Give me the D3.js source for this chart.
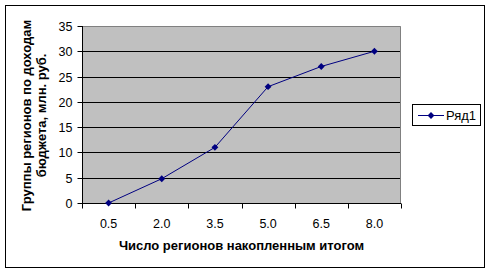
<!DOCTYPE html>
<html>
<head>
<meta charset="utf-8">
<script src="https://cdn.jsdelivr.net/npm/d3@7"></script>
<style>
  body { margin: 0; background: #fff; }
  text { font-family: "Liberation Sans", Arial, sans-serif; }
</style>
</head>
<body>
<div id="chart"></div>
<script>
// data
var categories = ["0.5", "2.0", "3.5", "5.0", "6.5", "8.0"]
var values = [0, 4.8, 11, 23, 27, 30]
var yTicks = [0, 5, 10, 15, 20, 25, 30, 35]
var seriesName = "Ряд1"
var xTitle = "Число регионов накопленным итогом"
var yTitle = ["Группы регионов по доходам", "бюджета, млн. руб."]

var svgw = 492, svgh = 274
var plot = {left: 82, top: 26, right: 401, bottom: 203}

var svg = d3.select('#chart').append('svg')
  .attr('width', svgw)
  .attr('height', svgh)

// outer frame
svg.append('rect')
  .attr('x', 5.5).attr('y', 5.5)
  .attr('width', 479).attr('height', 262)
  .attr('fill', '#fff').attr('stroke', '#000')

var x = d3.scaleBand()
  .domain(categories)
  .range([plot.left, plot.right])
var y = d3.scaleLinear()
  .domain([0, 35])
  .range([plot.bottom, plot.top])

// plot area
svg.append('rect')
  .attr('x', plot.left).attr('y', plot.top)
  .attr('width', plot.right - plot.left).attr('height', plot.bottom - plot.top)
  .attr('fill', '#c0c0c0')
svg.append('path')
  .attr('d', 'M' + plot.left + ',' + (plot.top + 0.5) + 'H' + (plot.right - 0.5) + 'V' + plot.bottom)
  .attr('fill', 'none').attr('stroke', '#808080')

// gridlines
svg.selectAll('.grid')
  .data(yTicks.filter(function(d){ return d > 0 && d < 35 }))
  .enter().append('line')
  .attr('x1', plot.left).attr('x2', plot.right - 1)
  .attr('y1', function(d){ return Math.round(y(d)) + 0.5 })
  .attr('y2', function(d){ return Math.round(y(d)) + 0.5 })
  .attr('stroke', '#000')

// y axis
var yAxis = svg.append('g')
  .attr('transform', 'translate(' + (plot.left + 0.5) + ',0)')
  .call(d3.axisLeft(y).tickValues(yTicks).tickSize(5).tickPadding(5).tickFormat(d3.format('d')))
yAxis.select('.domain').attr('d', 'M0,' + plot.top + 'V' + plot.bottom)
yAxis.selectAll('text').attr('font-size', 12.5).attr('font-family', '"Liberation Sans", Arial, sans-serif').attr('fill', '#000')
yAxis.selectAll('.tick').attr('transform', function(d){ return 'translate(0,' + (Math.round(y(d)) + 0.5) + ')' })

// x axis with ticks at band edges
var xAxis = svg.append('g')
  .attr('transform', 'translate(0,' + (plot.bottom + 0.5) + ')')
xAxis.append('line')
  .attr('x1', plot.left).attr('x2', plot.right)
  .attr('stroke', '#000')
var edges = categories.map(function(c){ return x(c) }).concat([plot.right])
xAxis.selectAll('.edge')
  .data(edges)
  .enter().append('line')
  .attr('x1', function(d){ return Math.round(d) + 0.5 })
  .attr('x2', function(d){ return Math.round(d) + 0.5 })
  .attr('y1', 0).attr('y2', 5)
  .attr('stroke', '#000')
xAxis.selectAll('.lbl')
  .data(categories)
  .enter().append('text')
  .attr('x', function(d){ return x(d) + x.bandwidth() / 2 })
  .attr('y', 24)
  .attr('text-anchor', 'middle')
  .attr('font-size', 12.5)
  .text(function(d){ return d })

// series line
var pts = categories.map(function(c, i){ return [x(c) + x.bandwidth() / 2, y(values[i])] })
svg.append('path')
  .attr('d', d3.line()(pts))
  .attr('fill', 'none')
  .attr('stroke', '#000080')
  .attr('stroke-width', 1)
var diamond = d3.symbol().type(d3.symbolDiamond2).size(30)
svg.selectAll('.mk')
  .data(pts)
  .enter().append('path')
  .attr('d', diamond)
  .attr('transform', function(d){ return 'translate(' + d[0] + ',' + d[1] + ')' })
  .attr('fill', '#000080')

// axis titles
svg.append('text')
  .attr('x', (plot.left + plot.right) / 2)
  .attr('y', 250)
  .attr('text-anchor', 'middle')
  .attr('font-size', 13)
  .attr('font-weight', 'bold')
  .text(xTitle)

var yt = svg.append('text')
  .attr('transform', 'translate(31,' + ((plot.top + plot.bottom) / 2 + 1) + ') rotate(-90)')
  .attr('text-anchor', 'middle')
  .attr('font-size', 13)
  .attr('font-weight', 'bold')
yt.selectAll('tspan')
  .data(yTitle)
  .enter().append('tspan')
  .attr('x', 0)
  .attr('dy', function(d, i){ return i == 0 ? 0 : 15 })
  .text(function(d){ return d })

// legend
var lg = svg.append('g').attr('transform', 'translate(412,104)')
lg.append('rect')
  .attr('x', 0.5).attr('y', 0.5)
  .attr('width', 68).attr('height', 21)
  .attr('fill', '#fff').attr('stroke', '#000')
lg.append('line')
  .attr('x1', 6).attr('x2', 32)
  .attr('y1', 11.5).attr('y2', 11.5)
  .attr('stroke', '#000080')
lg.append('path')
  .attr('d', diamond)
  .attr('transform', 'translate(19,11.5)')
  .attr('fill', '#000080')
lg.append('text')
  .attr('x', 34).attr('y', 16)
  .attr('font-size', 13)
  .text(seriesName)
</script>
</body>
</html>
